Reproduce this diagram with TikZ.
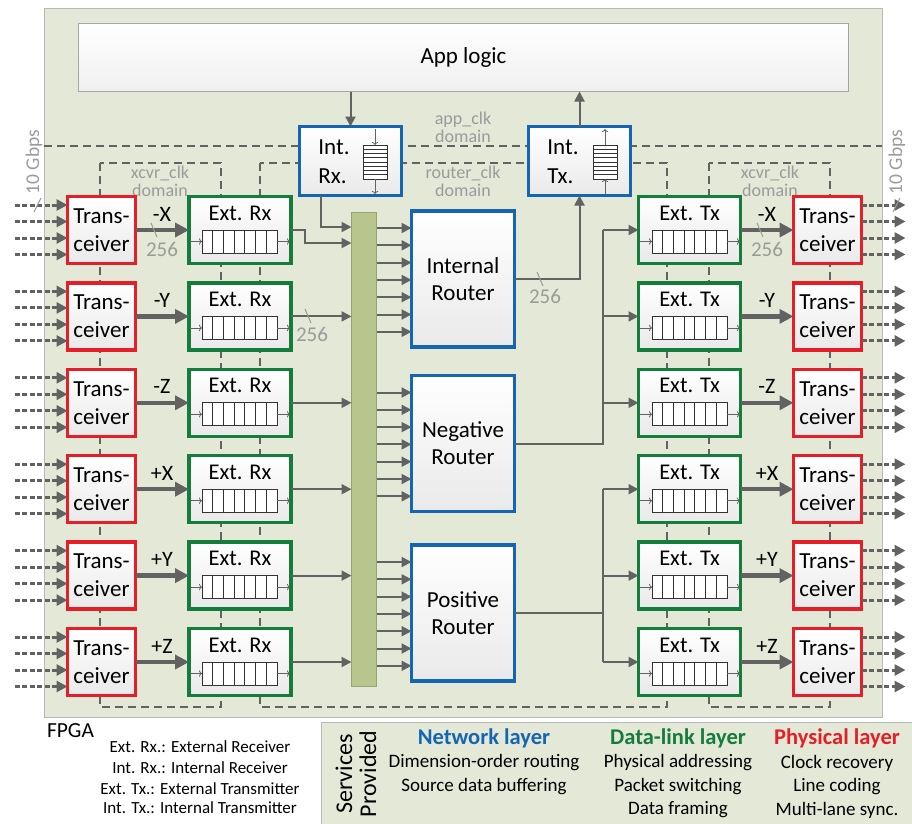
\documentclass[tikz,border=0pt]{standalone}
\usepackage{fontspec}
\setmainfont{Carlito}
\usetikzlibrary{arrows.meta,positioning,calc}

\definecolor{fpgabg}{RGB}{228,232,214}
\definecolor{physred}{RGB}{230,30,40}
\definecolor{linkgreen}{RGB}{20,125,60}
\definecolor{netblue}{RGB}{20,102,178}
\definecolor{wiregray}{RGB}{98,98,98}
\definecolor{labelgray}{RGB}{155,155,155}
\definecolor{barfill}{RGB}{184,197,140}
\definecolor{bardraw}{RGB}{150,162,112}

\begin{document}
\begin{tikzpicture}[x=1pt,y=-1pt,
    every node/.style={inner sep=0pt, outer sep=0pt},
    blockbox/.style={draw, rectangle, line width=3.5pt, top color=white, bottom color=gray!17, align=center},
    trxbox/.style={blockbox, draw=physred, minimum width=68pt, minimum height=67pt, font=\fontsize{23}{28}\selectfont},
    extbox/.style={blockbox, draw=linkgreen, minimum width=102pt, minimum height=67pt},
    intbox/.style={blockbox, draw=netblue, minimum width=102pt, minimum height=69pt},
    routerbox/.style={blockbox, draw=netblue, minimum width=103pt, minimum height=136pt, font=\fontsize{23}{27}\selectfont},
    appbox/.style={draw=gray!70, line width=1.2pt, top color=white, bottom color=gray!12, minimum width=770pt, minimum height=68pt, font=\fontsize{23}{26}\selectfont},
    busbar/.style={draw=bardraw, fill=barfill, line width=1pt, minimum width=25pt, minimum height=474pt},
    extlabel/.style={font=\fontsize{22.5}{24}\selectfont},
    intlabel/.style={align=left, font=\fontsize{23}{29}\selectfont},
    dirlabel/.style={font=\fontsize{22}{24}\selectfont},
    domainlabel/.style={text=labelgray, align=center, font=\fontsize{18}{18}\selectfont},
    buswidth/.style={text=labelgray, font=\fontsize{21}{22}\selectfont},
    widthtick/.style={draw=labelgray, line width=1pt},
    wire/.style={draw=wiregray, line width=2pt, -{Triangle[length=10pt,width=10pt]}},
    plainwire/.style={draw=wiregray, line width=2pt},
    fatwire/.style={draw=wiregray, line width=4.5pt, -{Triangle[length=14pt,width=14pt]}},
    lanewire/.style={draw=wiregray, line width=3pt, dash pattern=on 5pt off 2.5pt, -{Triangle[length=11pt,width=11pt]}},
    clkborder/.style={draw=wiregray, line width=1.8pt, dash pattern=on 8pt off 5pt},
    fifo/.style={draw=black!80, fill=white, line width=0.8pt},
    fifoarrow/.style={draw=wiregray, line width=0.8pt, -{To[length=3pt]}},
    legendtext/.style={font=\fontsize{17}{19}\selectfont},
    layerhead/.style={font=\fontsize{22.5}{24}\selectfont\bfseries},
    layeritem/.style={font=\fontsize{19}{21}\selectfont},
  ]
    \useasboundingbox (0,0) rectangle (912,823);

    % FPGA background
    \filldraw[fill=fpgabg, draw=gray!55, line width=1pt] (44,8) rectangle (882,717);

    % Clock domain borders
    \draw[clkborder] (44,146) -- (882,146);
    \draw[clkborder] (100,163) rectangle (221,707);
    \draw[clkborder] (260,163) rectangle (667,707);
    \draw[clkborder] (709,163) rectangle (830,707);

    % Domain labels
    \node[domainlabel] (appdom) at (463,127) {app\_clk\\domain};
    \node[domainlabel] (routerdom) at (463,181) {router\_clk\\domain};
    \node[domainlabel] (xcvrdoml) at (160,181) {xcvr\_clk\\domain};
    \node[domainlabel] (xcvrdomr) at (770,181) {xcvr\_clk\\domain};
    \node[domainlabel, rotate=90, font=\fontsize{19.5}{20}\selectfont] (ratel) at (34,162) {10 Gbps};
    \node[domainlabel, rotate=90, font=\fontsize{19.5}{20}\selectfont] (rater) at (897,162) {10 Gbps};

    % App logic and the internal Rx/Tx
    \node[appbox] (app) at (463.5,57.5) {App logic};
    \node[intbox] (irx) at (350.5,161) {};
    \node[intbox] (itx) at (579.5,161) {};
    \node[intlabel] (irxt) at (334,162) {Int.\\Rx.};
    \node[intlabel] (itxt) at (563,162) {Int.\\Tx.};

    % Vertical FIFOs of Int. Rx and Int. Tx
    \foreach \fx in {363,593} {
        \draw[fifo] (\fx,145) rectangle ({\fx+24},179);
        \foreach \k in {1,...,7}
            \draw[fifo] (\fx,{145+\k*34/8}) -- ({\fx+24},{145+\k*34/8});
    }
    \draw[fifoarrow] (375,129) -- (375,145);
    \draw[fifoarrow] (375,179) -- (375,194);
    \draw[fifoarrow] (605,194) -- (605,179);
    \draw[fifoarrow] (605,145) -- (605,129);

    \draw[wire] (irx.north |- app.south) -- (irx.north);
    \draw[wire] (itx.north) -- (itx.north |- app.south);

    % Routers and the bus bar
    \node[busbar] (bar) at (364,449.5) {};
    \node[routerbox] (intr) at (463,279) {Internal\\Router};
    \node[routerbox] (negr) at (463,443.5) {Negative\\Router};
    \node[routerbox] (posr) at (463,613) {Positive\\Router};

    % One row per direction
    \foreach \dir [count=\i from 0] in {-X,-Y,-Z,+X,+Y,+Z} {
        \pgfmathsetmacro{\rowy}{230+86.4*\i}
        \node[trxbox] (trl\i) at (101.5,\rowy) {Trans-\\ceiver};
        \node[extbox] (erx\i) at (240,\rowy) {};
        \node[extbox] (etx\i) at (689.5,\rowy) {};
        \node[trxbox] (trr\i) at (827.5,\rowy) {Trans-\\ceiver};
        \node[extlabel] (erxt\i) at (240,{\rowy-17}) {Ext. Rx};
        \node[extlabel] (etxt\i) at (689.5,{\rowy-17}) {Ext. Tx};

        % FIFOs
        \foreach \fx in {202,652} {
            \draw[fifo] (\fx,\rowy) rectangle ({\fx+75},{\rowy+23});
            \foreach \k in {1,...,6}
                \draw[fifo] ({\fx+\k*75/7},\rowy) -- ({\fx+\k*75/7},{\rowy+23});
            \draw[fifoarrow] ({\fx-12},{\rowy+11.5}) -- (\fx,{\rowy+11.5});
            \draw[fifoarrow] ({\fx+75},{\rowy+11.5}) -- ({\fx+88},{\rowy+11.5});
        }

        % links between the layers
        \draw[fatwire] (trl\i) -- (erx\i);
        \draw[fatwire] (etx\i) -- (trr\i);
        \node[dirlabel] (dirl\i) at (162,{\rowy-16}) {\dir};
        \node[dirlabel] (dirr\i) at (767,{\rowy-16}) {\dir};

        % serial lanes
        \foreach \o in {-25,-8.5,8,24.5} {
            \draw[lanewire] ($(trl\i.west)+(-53,\o)$) -- ($(trl\i.west)+(0,\o)$);
            \draw[lanewire] ($(trr\i.east)+(0,\o)$) -- ($(trr\i.east)+(44,\o)$);
        }

        \ifnum\i>0
            \draw[wire] (erx\i) -- (erx\i -| bar.west);
        \fi
    }

    % Inputs of the bus bar
    \coordinate (rxjog) at (305,243);
    \draw[wire] (erx0.east) -| (rxjog) -- (rxjog -| bar.west);
    \coordinate (irxdrop) at (321,227);
    \draw[wire] (irxdrop |- irx.south) -- (irxdrop) -- (irxdrop -| bar.west);

    % Bus bar to the routers
    \foreach \r in {intr,negr,posr}
        \foreach \k in {0,...,6} {
            \path ($(\r.north west)+(0,{17+17.3*\k})$) coordinate (pin);
            \draw[wire] (pin -| bar.east) -- (pin);
        }

    % Router outputs
    \draw[wire] (intr.east) -| (itx.south);
    \coordinate (txbus) at (603,0);
    \draw[plainwire] (negr.east) -| (txbus |- etx0.west);
    \draw[plainwire] (posr.east) -- (txbus |- posr.east);
    \draw[plainwire] (txbus |- etx3.west) -- (txbus |- etx5.west);
    \foreach \i in {0,...,5}
        \draw[wire] (txbus |- etx\i.west) -- (etx\i.west);

    % Bus widths
    \draw[widthtick] (151,223) -- (157,237);
    \node[buswidth] (bw1) at (162,249) {256};
    \draw[widthtick] (305,309) -- (311,323);
    \node[buswidth] (bw2) at (312,334) {256};
    \draw[widthtick] (537,272) -- (543,286);
    \node[buswidth] (bw3) at (545,296) {256};
    \draw[widthtick] (757,223) -- (763,237);
    \node[buswidth] (bw4) at (767,249) {256};
    \draw[widthtick] (34,212) -- (41,198);
    \draw[widthtick] (893,212) -- (900,198);

    % Legend
    \node[anchor=west, font=\fontsize{21.5}{23}\selectfont] (fpga) at (47,731) {FPGA};
    \node[legendtext] (lg1) at (200,747) {Ext. Rx.: External Receiver};
    \node[legendtext] (lg2) at (200,768) {Int. Rx.: Internal Receiver};
    \node[legendtext] (lg3) at (200,789) {Ext. Tx.: External Transmitter};
    \node[legendtext] (lg4) at (200,808) {Int. Tx.: Internal Transmitter};

    % Services provided
    \filldraw[fill=fpgabg, draw=gray!55, line width=1pt] (321,722) rectangle (915,826);
    \node[rotate=90, align=center, font=\fontsize{24}{24}\selectfont] (svc) at (356,774) {Services\\Provided};
    \node[layerhead, text=netblue] (nethead) at (484,738) {Network layer};
    \node[layeritem] (net1) at (484,763) {Dimension-order routing};
    \node[layeritem] (net2) at (484,787) {Source data buffering};
    \node[layerhead, text=linkgreen] (linkhead) at (678,738) {Data-link layer};
    \node[layeritem] (link1) at (678,763) {Physical addressing};
    \node[layeritem] (link2) at (678,787) {Packet switching};
    \node[layeritem] (link3) at (678,810) {Data framing};
    \node[layerhead, text=physred] (physhead) at (837,738) {Physical layer};
    \node[layeritem] (phys1) at (837,763) {Clock recovery};
    \node[layeritem] (phys2) at (837,787) {Line coding};
    \node[layeritem] (phys3) at (837,810) {Multi-lane sync.};
\end{tikzpicture}
\end{document}
